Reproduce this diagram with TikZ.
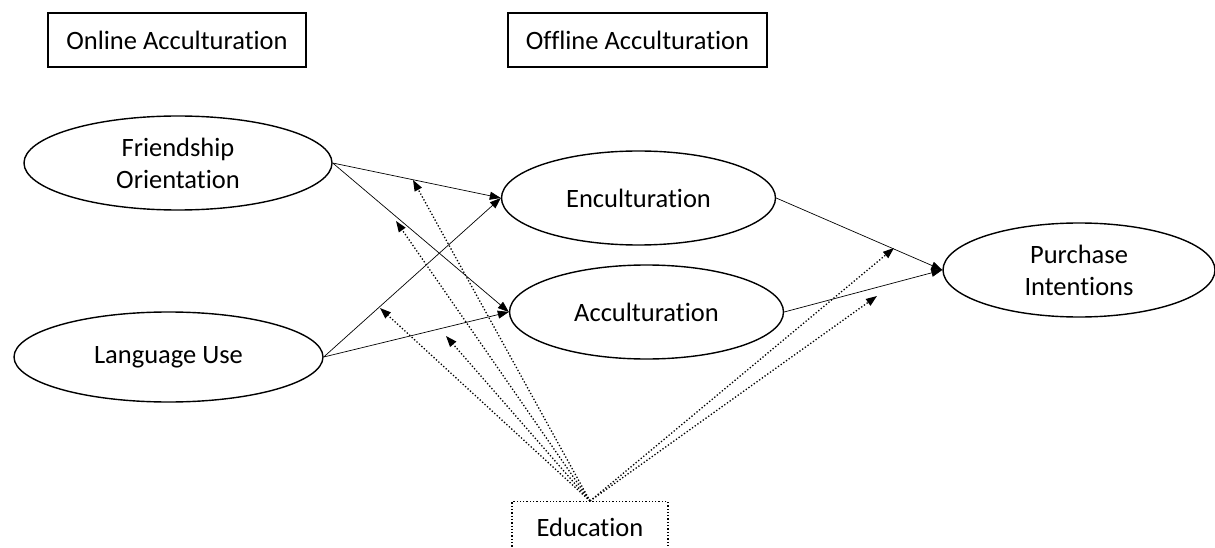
\documentclass[tikz,border=0pt]{standalone}
\usepackage{fontspec}
\setmainfont{Carlito}[Ligatures={NoCommon,NoContextual}]
\usetikzlibrary{shapes.geometric,arrows.meta}
\begin{document}
\begin{tikzpicture}[x=1pt,y=-1pt,
  lbl/.style={font=\fontsize{26.5}{32}\selectfont},
  hdr/.style={lbl,draw,line width=1.2pt,minimum width=258pt,minimum height=54pt,inner sep=0pt},
  construct/.style={lbl,draw,ellipse,line width=1.4pt,inner sep=0pt,align=center},
  path/.style={line width=0.7pt,-{Triangle[length=11pt,width=8pt]}},
  moder/.style={line width=1.3pt,dotted,-{Triangle[length=11pt,width=8pt]}}]
\useasboundingbox (0,0) rectangle (1215,548);
\clip (0,0) rectangle (1215,548);
\node[hdr] (on) at (177,40) {Online Acculturation};
\node[hdr,minimum width=259pt] (off) at (637.5,40) {Offline Acculturation};
\node[construct,minimum width=308pt,minimum height=94pt] (fo) at (178,163) {Friendship\\Orientation};
\node[construct,minimum width=309pt,minimum height=90pt] (lu) at (168.5,357) {Language Use};
\node[construct,minimum width=274pt,minimum height=94pt] (en) at (638.5,198) {Enculturation};
\node[construct,minimum width=274pt,minimum height=94pt] (ac) at (646.5,312) {Acculturation};
\node[construct,minimum width=272pt,minimum height=94pt] (pi) at (1079,270) {Purchase\\Intentions};
\node[lbl,draw,dotted,line width=1.3pt,minimum width=156pt,minimum height=70pt,anchor=north] (ed) at (590,501) {};
\node[lbl] (edt) at (590,527) {Education};
\draw[path] (fo.east) -- (en.west);
\draw[path] (fo.east) -- (ac.west);
\draw[path] (lu.east) -- (en.west);
\draw[path] (lu.east) -- (ac.west);
\draw[path] (en.east) -- (pi.west);
\draw[path] (ac.east) -- (pi.west);
\coordinate (m1) at (413,180);
\coordinate (m2) at (396,221);
\coordinate (m3) at (380,308);
\coordinate (m4) at (446,336);
\coordinate (m5) at (894,248);
\coordinate (m6) at (877,296);
\foreach \m in {m1,m2,m3,m4,m5,m6}
  \draw[moder] (ed.north) -- (\m);
\end{tikzpicture}
\end{document}
